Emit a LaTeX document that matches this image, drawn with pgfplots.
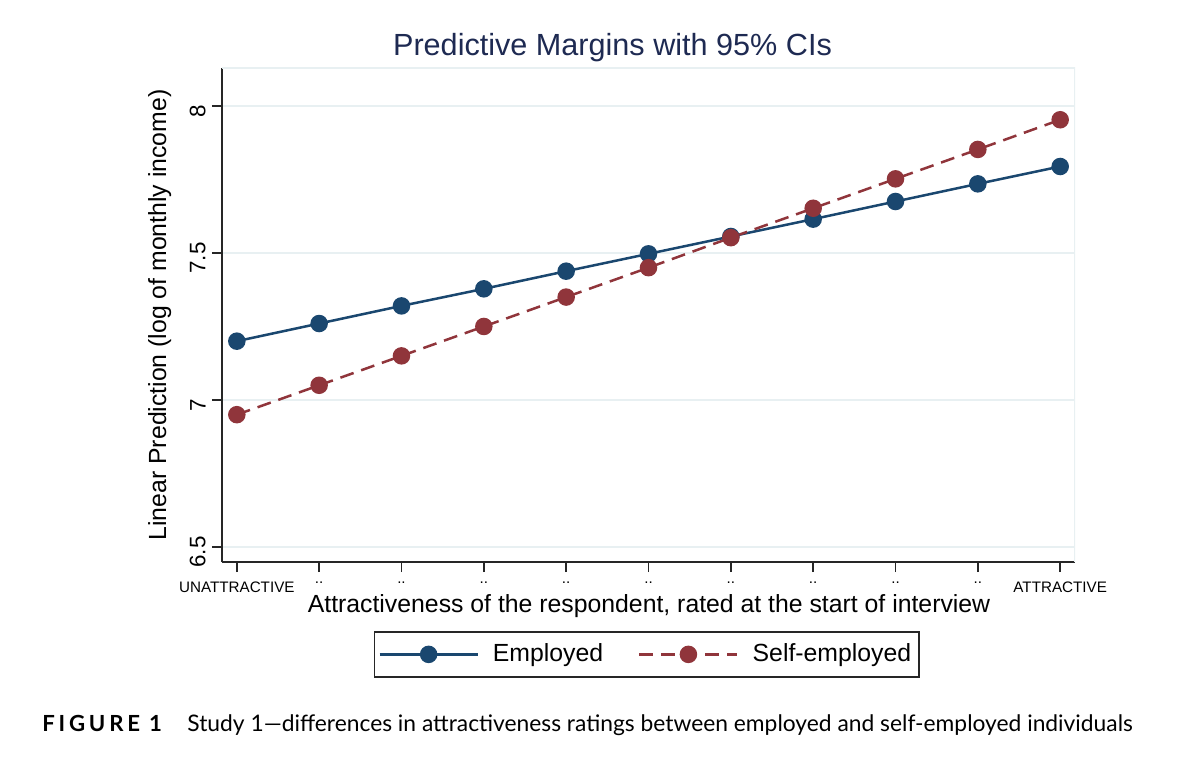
\documentclass[border=0pt]{standalone}
\usepackage{pgfplots}
\pgfplotsset{compat=1.18}
\usepackage{fontspec}
\setmainfont{Liberation Sans}
\newfontfamily\capfont{Lato}
\newfontfamily\capsp[LetterSpace=17]{Lato}
\definecolor{emp}{RGB}{26,71,111}
\definecolor{selfc}{RGB}{144,53,59}
\definecolor{gridc}{RGB}{232,240,242}
\definecolor{titlec}{RGB}{30,42,82}
\begin{document}
\begin{tikzpicture}[x=0.5pt,y=0.5pt]
\path (0,0) rectangle (1200,773);
\begin{axis}[
  at={(111pt,105.5pt)}, anchor=south west,
  scale only axis, width=426.5pt, height=247pt,
  xmin=-0.18, xmax=10.18, ymin=6.449, ymax=8.129,
  axis x line=bottom, axis y line=left,
  axis line style={-, line width=0.75pt, color=black!85},
  xtick={0,...,10},
  xticklabels={UNATTRACTIVE,..,..,..,..,..,..,..,..,..,ATTRACTIVE},
  ytick={6.5,7,7.5,8}, yticklabels={6.5,7,7.5,8},
  tick align=outside, major tick length=5pt,
  tick style={line width=0.75pt, black!85},
  ymajorgrids, grid style={gridc, line width=1pt},
  /pgf/number format/assume math mode=true,
  xticklabel style={font=\fontsize{7.6}{9}\selectfont, inner sep=1pt, yshift=-3.5pt},
  yticklabel style={font=\fontsize{11.2}{13}\selectfont, rotate=90, anchor=south, inner sep=3pt, xshift=-2.5pt},
  legend style={at={(0.498,-0.187)}, anchor=center, draw=black!85, line width=0.75pt,
    font=\fontsize{12.4}{14}\selectfont, inner xsep=2pt, inner ysep=4pt,
    /tikz/every odd column/.append style={column sep=5pt},
    /tikz/every even column/.append style={column sep=15.5pt}},
  legend columns=2,
  legend cell align=left,
  legend image code/.code={\draw[mark repeat=2,mark phase=2,#1] plot coordinates {(0pt,0pt) (24.5pt,0pt) (49pt,0pt)};},
]
\draw[gridc, line width=1pt] (rel axis cs:0,1) -- (rel axis cs:1,1) -- (rel axis cs:1,0);
\addplot[emp, line width=1.25pt, mark=*, mark size=3.75pt, mark options={solid, fill=emp, draw=emp}]
 coordinates {(0,7.200) (1,7.260) (2,7.320) (3,7.378) (4,7.438) (5,7.497) (6,7.556) (7,7.615) (8,7.675) (9,7.735) (10,7.794)};
\addlegendentry{Employed}
\addplot[selfc, line width=1.25pt, dash pattern=on 7pt off 4pt, mark=*, mark size=3.75pt, mark options={solid, fill=selfc, draw=selfc}]
 coordinates {(0,6.950) (1,7.050) (2,7.150) (3,7.250) (4,7.350) (5,7.450) (6,7.552) (7,7.652) (8,7.752) (9,7.852) (10,7.953)};
\addlegendentry{Self-employed}
\end{axis}
\node[font=\fontsize{15.3}{18}\selectfont, text=titlec, anchor=base] at (612.5,717) {Predictive Margins with 95\% CIs};
\node[font=\fontsize{12.4}{14}\selectfont, anchor=base, inner sep=0pt] at (649,161) {Attractiveness of the respondent, rated at the start of interview};
\node[font=\fontsize{12.4}{14}\selectfont, anchor=base, rotate=90, inner sep=0pt] at (166,458) {Linear Prediction (log of monthly income)};
\node[font=\capsp\bfseries\fontsize{11.1}{13}\selectfont, anchor=base west, inner sep=0pt] at (42,42) {FIGURE 1};
\node[font=\capfont\fontsize{11.4}{13}\selectfont, anchor=base west, inner sep=0pt] at (187,42) {Study 1\textemdash differences in attractiveness ratings between employed and self-employed individuals};
\end{tikzpicture}
\end{document}
